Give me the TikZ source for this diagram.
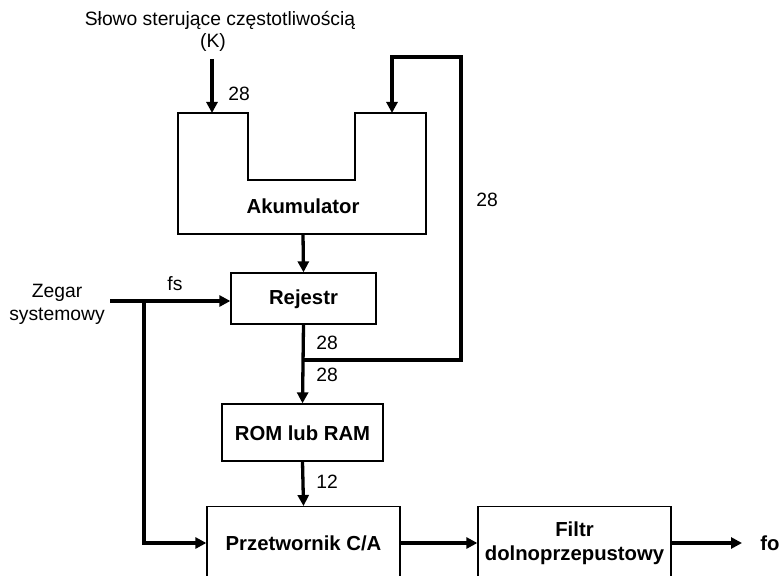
\documentclass[tikz,border=0pt]{standalone}
\usepackage{fontspec}
\setmainfont{Liberation Sans}
\usetikzlibrary{arrows.meta}
\tikzset{
  thinbox/.style={draw, line width=1.3pt, inner sep=0pt},
  bus/.style={line width=3.3pt, -{Triangle[length=11pt,width=11pt]}},
  lbl/.style={inner sep=0pt, font=\fontsize{19.3}{23}\selectfont},
  blbl/.style={inner sep=0pt, font=\fontsize{20.3}{24}\selectfont\bfseries, align=center},
}
\begin{document}
\begin{tikzpicture}[x={(1pt,0)}, y={(0,-1pt)}]
\useasboundingbox (0,0) rectangle (783,575);
\clip (0,0) rectangle (783,575);
\fill[white] (0,0) rectangle (783,575);

% Akumulator (U shape)
\draw[line width=1.3pt] (178,113) -- (248,113) -- (248,180) -- (355,180) -- (355,113)
  -- (426,113) -- (426,234) -- (178,234) -- cycle;
\coordinate (akin) at (212,113);
\coordinate (akfb) at (392,113);
\coordinate (akout) at (303,234);
\node[blbl] (akum) at (303,206) {Akumulator};

% Boxes
\node[thinbox, minimum width=145, minimum height=51] (rej) at (303.5,298.5) {};
\node[blbl] (rejt) at (303.5,299) {Rejestr};
\node[thinbox, minimum width=161, minimum height=57] (rom) at (302.5,432.5) {};
\node[blbl] (romt) at (302.5,433) {ROM lub RAM};
\node[thinbox, minimum width=193, minimum height=140, anchor=north] (dac) at (303.5,506) {};
\node[blbl] (dact) at (303.5,543) {Przetwornik C/A};
\node[thinbox, minimum width=193, minimum height=140, anchor=north] (filt) at (574.5,506) {};
\node[blbl] (filtt) at (574.5,543) {Filtr\\dolnoprzepustowy};

% Texts
\node[lbl] (slowo) at (220,20) {Słowo sterujące częstotliwością};
\node[lbl] (kk) at (213,43) {(K)};
\node[lbl] (n28a) at (239,94) {28};
\node[lbl] (n28b) at (487,200) {28};
\node[lbl] (fs) at (175,284) {fs};
\node[lbl] (zeg) at (57,293) {Zegar};
\node[lbl] (sys) at (57,316) {systemowy};
\node[lbl] (n28c) at (327,343) {28};
\node[lbl] (n28d) at (327,375) {28};
\node[lbl] (n12) at (327,482) {12};
\node[blbl] (fo) at (770,543) {fo};

% Coordinates for free ends
\coordinate (kin) at (212,59);
\coordinate (zin) at (110,301);
\coordinate (br) at (144,301);
\coordinate (jn) at (303,360);
\coordinate (foend) at (742,543);

% Connectors
\draw[bus] (kin) -- (akin);
\draw[bus] (jn) -- (461,360) -- (461,57) -- (392,57) -- (akfb);
\draw[bus] (akout) -- (rej.north);
\draw[bus] (zin) -- (zin -| rej.west);
\draw[bus] (br) -- (144,543) -- (dac.west |- dact);
\draw[bus] (rej.south) -- (rom.north);
\draw[bus] (rom.south) -- (dac.north);
\draw[bus] (dac.east |- dact) -- (filt.west |- filtt);
\draw[bus] (filt.east |- filtt) -- (foend);
\end{tikzpicture}
\end{document}
